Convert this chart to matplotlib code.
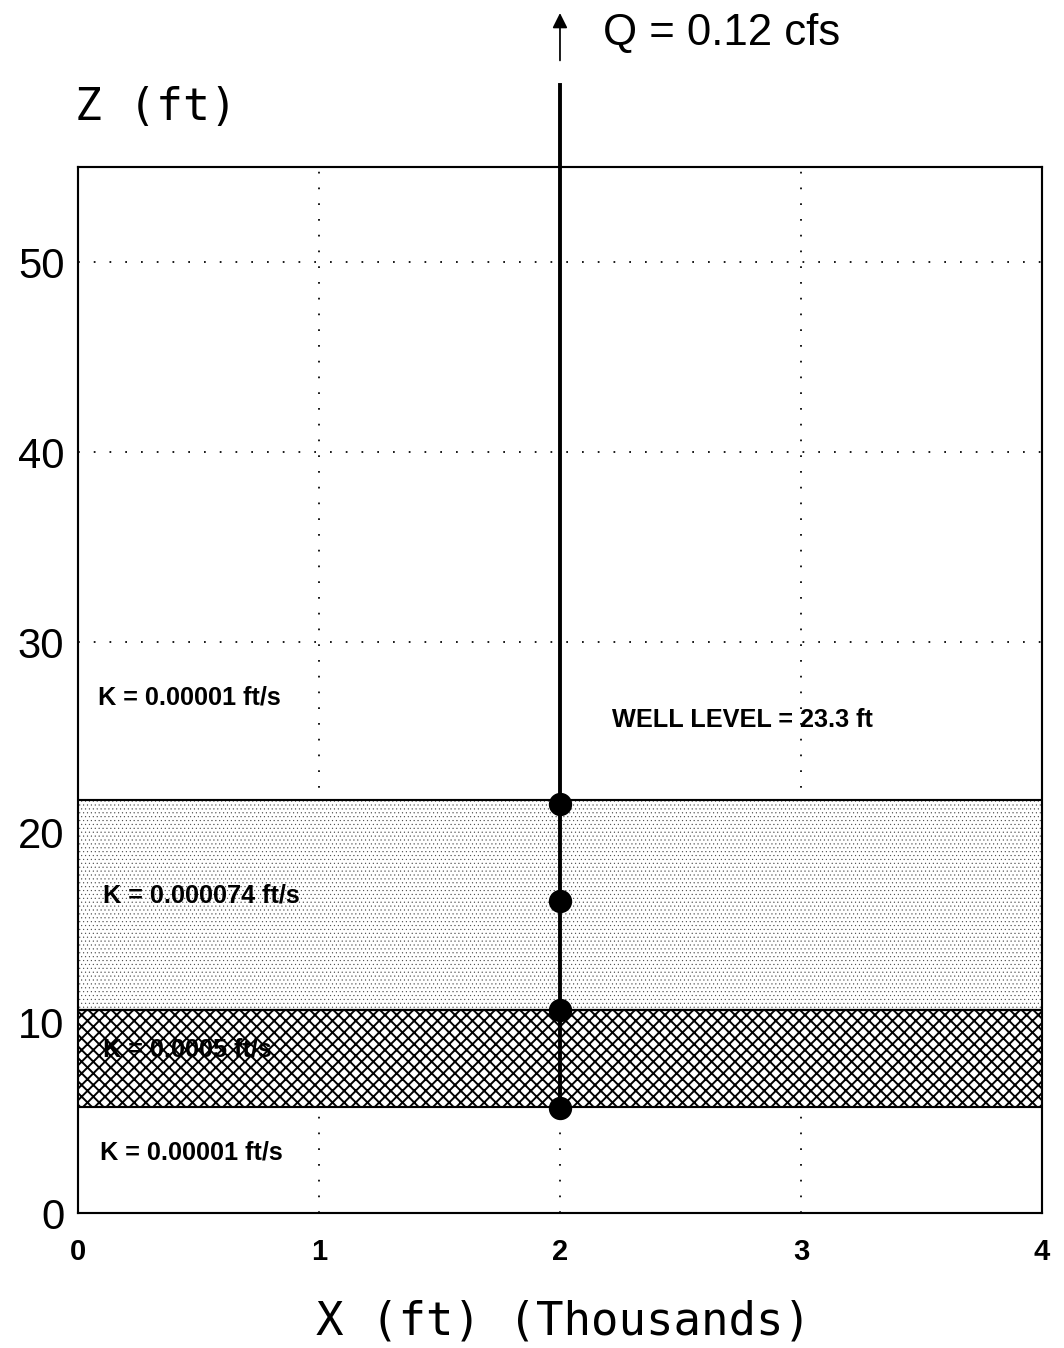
import matplotlib
matplotlib.use("Agg")
import matplotlib.pyplot as plt
from matplotlib.patches import Rectangle

# layers (z in ft, x in thousands of ft)
layer_bottom = [10.7, 5.6]
layer_top = [21.7, 10.7]
layer_hatch = ["......", "xxxx"]
hatch_colour = ["#4a4a4a", "black"]

k_labels = ["K = 0.00001 ft/s", "K = 0.000074 ft/s", "K = 0.0005 ft/s", "K = 0.00001 ft/s"]
k_x = [0.085, 0.105, 0.105, 0.09]
k_z = [27.1, 16.7, 8.6, 3.2]

well_x = 2.0
well_z = [21.5, 16.4, 10.7, 5.55]
well_top = 59.3
arrow_z = [60.4, 63.3]

DPI = 140
fig = plt.figure(figsize=(1064 / DPI, 1348 / DPI), dpi=DPI)
ax = fig.add_axes([0.0733, 0.1001, 0.9060, 0.7760])
ax.set_xlim(0, 4)
ax.set_ylim(0, 55)

ax.set_xticks([0, 1, 2, 3, 4])
ax.set_yticks([0, 10, 20, 30, 40, 50])
ax.tick_params(length=0)
ax.tick_params(axis="y", pad=7)
ax.tick_params(axis="x", pad=13)
for lab in ax.get_yticklabels():
    lab.set_fontfamily(["Liberation Sans", "DejaVu Sans"])
    lab.set_fontsize(21.5)
for lab in ax.get_xticklabels():
    lab.set_fontfamily(["Liberation Sans Narrow", "Liberation Sans"])
    lab.set_fontsize(15)
    lab.set_fontweight("bold")

for s in ax.spines.values():
    s.set_linewidth(1.1)

ax.grid(True, color="black", linestyle=(0, (1, 8)), linewidth=0.9)
ax.set_axisbelow(True)

# layers
for b, t, h, c in zip(layer_bottom, layer_top, layer_hatch, hatch_colour):
    plt.rcParams["hatch.linewidth"] = 0.25 if h.startswith(".") else 1.0
    r = Rectangle((0, b), 4, t - b, facecolor="white",
                  edgecolor=c, hatch=h, linewidth=0, zorder=2)
    ax.add_patch(r)
    ax.axhline(b, color="black", linewidth=1.1, zorder=3)
    ax.axhline(t, color="black", linewidth=1.1, zorder=3)

# well
ax.plot([well_x, well_x], [well_z[-1], well_top], color="black",
        linewidth=2.0, clip_on=False, zorder=4)
ax.plot([well_x] * len(well_z), well_z, "o", color="black",
        markersize=11, clip_on=False, zorder=5)
ax.annotate("", xy=(well_x, arrow_z[1]), xytext=(well_x, arrow_z[0]),
            xycoords="data", annotation_clip=False,
            arrowprops=dict(arrowstyle="-|>", color="black", lw=0.9,
                            mutation_scale=16))
ax.text(2.18, 62.0, "Q = 0.12 cfs", fontsize=22.5, family="Liberation Sans",
        va="center", ha="left", clip_on=False)

for t, x, z in zip(k_labels, k_x, k_z):
    ax.text(x, z, t, fontsize=13, family="Liberation Sans", weight="bold",
            va="center", ha="left", zorder=6)
ax.text(2.215, 25.9, "WELL LEVEL = 23.3 ft", fontsize=13, weight="bold",
        family="Liberation Sans", va="center", ha="left", zorder=6)

fig.text(75 / 1064, 1 - 107 / 1348, "Z (ft)", fontsize=23,
         family="DejaVu Sans Mono", va="center", ha="left")
fig.text(563 / 1064, 1 - 1322 / 1348, "X (ft) (Thousands)", fontsize=23.5,
         family="DejaVu Sans Mono", va="center", ha="center")

fig.savefig("out.png", dpi=DPI)
